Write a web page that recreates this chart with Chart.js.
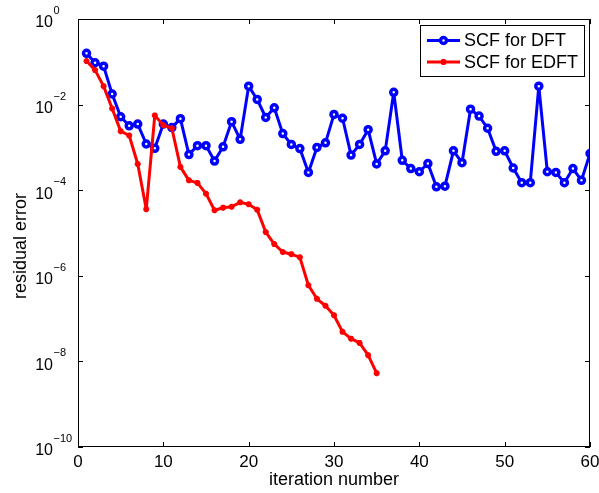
<!DOCTYPE html>
<html>
<head>
<meta charset="utf-8">
<script src="https://cdn.jsdelivr.net/npm/chart.js@4/dist/chart.umd.min.js"></script>
<style>
  html,body{margin:0;padding:0;background:#fff;}
  #wrap{width:599px;height:493px;}
</style>
</head>
<body>
<div id="wrap"><canvas id="grafics" width="599" height="493"></canvas></div>
<script>
// residual error per SCF iteration
const dft_iter = Array.from({length:60},(_,i)=>i+1)
const dft_err = [
  0.158, 0.095, 0.079, 0.0177, 0.0052, 0.0032, 0.0035, 0.0012, 0.00095, 0.0035,
  0.0029, 0.0047, 0.00068, 0.0011, 0.0011, 0.00048, 0.00103, 0.0040, 0.00154, 0.027,
  0.0132, 0.0050, 0.0084, 0.0021, 0.00117, 0.00094, 0.00026, 0.00100, 0.00128, 0.0059,
  0.0048, 0.00066, 0.00117, 0.0026, 0.00041, 0.00083, 0.0194, 0.00050, 0.00032, 0.00027,
  0.00042, 0.00012, 0.000124, 0.00083, 0.00044, 0.0078, 0.0054, 0.0028, 0.00081, 0.00083,
  0.00033, 0.00015, 0.00015, 0.027, 0.00027, 0.00026, 0.00015, 0.00032, 0.00017, 0.00072
]
const edft_iter = Array.from({length:35},(_,i)=>i+1)
const edft_err = [
  0.104, 0.064, 0.027, 0.0081, 0.0024, 0.0019, 0.00041, 3.6e-5, 0.0056, 0.0033,
  0.0028, 0.00035, 0.00017, 0.000148, 8.3e-5, 3.4e-5, 3.9e-5, 4.1e-5, 5.2e-5, 4.7e-5,
  3.5e-5, 1.05e-5, 5.5e-6, 3.6e-6, 3.2e-6, 2.7e-6, 6.0e-7, 2.9e-7, 2.0e-7, 1.2e-7,
  4.9e-8, 3.4e-8, 2.7e-8, 1.4e-8, 5.3e-9
]
const x_ticks = [0,10,20,30,40,50,60]
const y_exps = [0,-2,-4,-6,-8,-10]

const FONT = '"Liberation Sans", Arial, sans-serif'

// ejes estilo matlab: caja, ticks hacia dentro, etiquetas 10^n
const matlab_axes = {
    id:'matlab_axes',
    afterDraw(chart){
        const ctx = chart.ctx
        const {left,right,top,bottom} = chart.chartArea
        const xs = chart.scales.x, ys = chart.scales.y
        ctx.save()
        ctx.strokeStyle = '#000'
        ctx.lineWidth = 1
        ctx.strokeRect(left+0.5, top+0.5, right-left-1, bottom-top-1)
        ctx.beginPath()
        x_ticks.forEach(v=>{
            const px = Math.round(xs.getPixelForValue(v))+0.5
            ctx.moveTo(px,bottom); ctx.lineTo(px,bottom-5)
            ctx.moveTo(px,top); ctx.lineTo(px,top+5)
        })
        y_exps.forEach(e=>{
            const py = Math.round(ys.getPixelForValue(Math.pow(10,e)))+0.5
            ctx.moveTo(left,py); ctx.lineTo(left+5,py)
            ctx.moveTo(right,py); ctx.lineTo(right-5,py)
        })
        ctx.stroke()

        ctx.fillStyle = '#000'
        ctx.font = '17px '+FONT
        ctx.textAlign = 'center'
        ctx.textBaseline = 'middle'
        x_ticks.forEach(v=>{
            ctx.fillText(String(v), xs.getPixelForValue(v), bottom+15.5)
        })
        y_exps.forEach(e=>{
            const py = ys.getPixelForValue(Math.pow(10,e))
            ctx.font = '16px '+FONT
            ctx.textAlign = 'right'
            ctx.fillText('10', 53, py+4)
            ctx.font = '11px '+FONT
            ctx.textAlign = 'left'
            ctx.fillText(e===0 ? '0' : '\u2212'+Math.abs(e), 53.5, py-8)
        })

        ctx.font = '18px '+FONT
        ctx.textAlign = 'center'
        ctx.fillText('iteration number', (left+right)/2, 480)
        ctx.save()
        ctx.translate(21,246)
        ctx.rotate(-Math.PI/2)
        ctx.fillText('residual error',0,0)
        ctx.restore()

        // leyenda
        const lx = 420.5, ly = 25.5, lw = 164, lh = 51
        ctx.fillStyle = '#fff'
        ctx.fillRect(lx,ly,lw,lh)
        ctx.strokeRect(lx,ly,lw,lh)
        chart.data.datasets.forEach((ds,i)=>{
            const yy = ly + 15 + i*21.5
            ctx.strokeStyle = ds.borderColor
            ctx.lineWidth = 3
            ctx.beginPath(); ctx.moveTo(427,yy); ctx.lineTo(460,yy); ctx.stroke()
            ctx.lineWidth = ds.pointBorderWidth
            ctx.fillStyle = ds.pointBackgroundColor
            ctx.beginPath()
            if(ds.pointStyle==='circle'){
                ctx.arc(443.5,yy,ds.pointRadius,0,Math.PI*2); ctx.fill(); ctx.stroke()
            }else{
                Chart.helpers.drawPoint(ctx,{pointStyle:'star',radius:ds.pointRadius,borderWidth:ds.pointBorderWidth},443.5,yy)
                ctx.stroke()
            }
            ctx.fillStyle = '#000'
            ctx.font = '18px '+FONT
            ctx.textAlign = 'left'
            ctx.fillText(ds.label, 464, yy+1)
        })
        ctx.restore()
    }
}

const data_dft = {
    label:'SCF for DFT',
    data:dft_iter.map((x,i)=>({x, y:dft_err[i]})),
    borderColor:'#0000ff',
    borderWidth:3,
    borderJoinStyle:'round',
    pointStyle:'circle',
    pointRadius:3,
    pointBorderWidth:3.5,
    pointBackgroundColor:'#ffffff',
    pointBorderColor:'#0000ff',
    tension:0,
    order:1
}
const data_edft = {
    label:'SCF for EDFT',
    data:edft_iter.map((x,i)=>({x, y:edft_err[i]})),
    borderColor:'#ff0000',
    borderWidth:3,
    borderJoinStyle:'round',
    pointStyle:'star',
    pointRadius:3,
    pointBorderWidth:2,
    pointBackgroundColor:'#ff0000',
    pointBorderColor:'#ff0000',
    tension:0,
    order:0
}

const chart = new Chart(document.getElementById('grafics').getContext('2d'),{
    type:'line',
    data:{datasets:[data_dft,data_edft]},
    options:{
        responsive:false,
        animation:false,
        layout:{padding:{top:19,right:9,left:0,bottom:0}},
        plugins:{legend:{display:false},tooltip:{enabled:false}},
        scales:{
            x:{
                type:'linear', min:0, max:60,
                ticks:{display:false, stepSize:10},
                grid:{display:false},
                border:{display:false},
                afterFit(s){ s.height = 46 }
            },
            y:{
                type:'logarithmic', min:1e-10, max:1,
                ticks:{display:false},
                grid:{display:false},
                border:{display:false},
                afterFit(s){ s.width = 78 }
            }
        }
    },
    plugins:[matlab_axes]
})
</script>
</body>
</html>
